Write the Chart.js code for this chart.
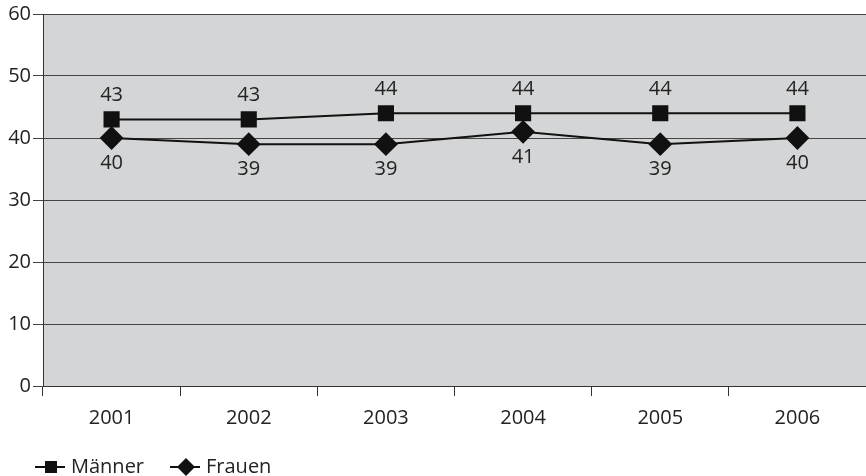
<!DOCTYPE html>
<html>
<head>
<meta charset="utf-8">
<script src="https://cdn.jsdelivr.net/npm/chart.js@4/dist/chart.umd.min.js"></script>
<style>
  html, body { margin: 0; padding: 0; background: #fff; }
  #wrap { width: 866px; height: 476px; }
</style>
</head>
<body>
<div id="wrap"><canvas id="chart"></canvas></div>
<script>
const years = ['2001', '2002', '2003', '2004', '2005', '2006'];
const maenner = [43, 43, 44, 44, 44, 44];
const frauen = [40, 39, 39, 41, 39, 40];

const FONT = '"Open Sans", "DejaVu Sans", sans-serif';
const TEXT = '#222';

const plotBg = {
    id: 'plotBg',
    beforeDraw(chart) {
        const a = chart.chartArea, ctx = chart.ctx;
        ctx.save();
        ctx.fillStyle = '#d4d5d6';
        ctx.fillRect(a.left, a.top, a.right - a.left, a.bottom - a.top);
        ctx.restore();
    }
};

const valueLabels = {
    id: 'valueLabels',
    afterDatasetsDraw(chart) {
        const ctx = chart.ctx;
        ctx.save();
        ctx.font = '20px ' + FONT;
        ctx.fillStyle = TEXT;
        ctx.textAlign = 'center';
        ctx.textBaseline = 'middle';
        chart.data.datasets.forEach((ds, i) => {
            const meta = chart.getDatasetMeta(i);
            meta.data.forEach((pt, j) => {
                const dy = i === 0 ? -24 : 25;
                ctx.fillText(ds.data[j], pt.x, pt.y + dy);
            });
        });
        ctx.restore();
    }
};

// legend at the bottom left: line with marker, then the name
const lineLegend = {
    id: 'lineLegend',
    afterDraw(chart) {
        const ctx = chart.ctx;
        const y = 467;
        let x = 35;
        ctx.save();
        ctx.font = '20px ' + FONT;
        ctx.textBaseline = 'middle';
        chart.data.datasets.forEach((ds, i) => {
            ctx.strokeStyle = '#111';
            ctx.fillStyle = '#111';
            ctx.lineWidth = 2;
            ctx.beginPath();
            ctx.moveTo(x, y); ctx.lineTo(x + 30, y);
            ctx.stroke();
            const cx = x + 16;
            if (i === 0) {
                ctx.fillRect(cx - 6, y - 6, 12, 12);
            } else {
                ctx.beginPath();
                ctx.moveTo(cx, y - 9); ctx.lineTo(cx + 9, y);
                ctx.lineTo(cx, y + 9); ctx.lineTo(cx - 9, y);
                ctx.closePath(); ctx.fill();
            }
            ctx.fillStyle = TEXT;
            ctx.fillText(ds.label, x + 36, y);
            x += 135;
        });
        ctx.restore();
    }
};

new Chart(document.getElementById('chart'), {
    type: 'line',
    data: {
        labels: years,
        datasets: [{
            label: 'Männer',
            data: maenner,
            borderColor: '#111',
            backgroundColor: '#111',
            borderWidth: 2,
            pointStyle: 'rect',
            pointRadius: 10,
            pointHoverRadius: 10,
            tension: 0
        }, {
            label: 'Frauen',
            data: frauen,
            borderColor: '#111',
            backgroundColor: '#111',
            borderWidth: 2,
            pointStyle: 'rectRot',
            pointRadius: 10.5,
            pointHoverRadius: 10.5,
            tension: 0
        }]
    },
    options: {
        responsive: true,
        maintainAspectRatio: false,
        animation: false,
        layout: { autoPadding: false, padding: { top: 14, right: 0, left: 0, bottom: 36 } },
        plugins: {
            tooltip: { enabled: false },
            legend: { display: false }
        },
        scales: {
            x: {
                offset: true,
                grid: {
                    offset: true,
                    drawOnChartArea: false,
                    tickLength: 10,
                    color: '#333'
                },
                border: { display: true, color: '#333' },
                ticks: {
                    font: { size: 20, family: FONT },
                    color: TEXT,
                    padding: 10
                }
            },
            y: {
                min: 0,
                max: 60,
                afterFit(s) { s.width = 43; },
                grid: {
                    color: '#444',
                    lineWidth: 1,
                    tickLength: 10
                },
                border: { display: true, color: '#333' },
                ticks: {
                    stepSize: 10,
                    font: { size: 20, family: FONT },
                    color: TEXT,
                    padding: 2
                }
            }
        }
    },
    plugins: [plotBg, valueLabels, lineLegend]
});
</script>
</body>
</html>
